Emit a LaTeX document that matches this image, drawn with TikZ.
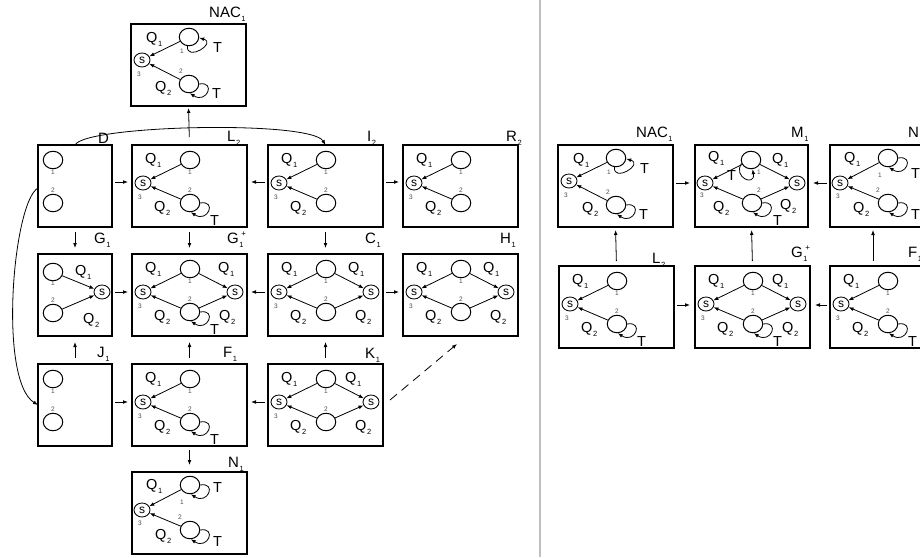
\documentclass[tikz,border=0pt]{standalone}
\usepackage{fontspec}
\setmainfont{Liberation Sans}
\usetikzlibrary{arrows.meta,shapes.geometric}
\definecolor{numgray}{gray}{0.3}
\definecolor{sepgray}{gray}{0.75}
\newcommand\sbx[1]{\kern0.6pt\raisebox{-4.5pt}{\fontsize{7.5}{7.5}\selectfont #1}}
\newcommand\gplus{G\kern0.6pt\rlap{\raisebox{6.5pt}{\kern2pt\fontsize{8}{8}\selectfont +}}\raisebox{-4.5pt}{\fontsize{7.5}{7.5}\selectfont 1}}
\newcommand\gBN[3]{\node[bn] (#1) at (#2,-#3) {};}
\newcommand\gSN[3]{\node[sn] (#1) at (#2,-#3) {s};}
\newcommand\gNum[3]{\node[num] at (#1,-#2) {#3};}
\newcommand\gQ[3]{\node[lab] at (#1,-#2) {Q\sbx{#3}};}
\newcommand\gT[2]{\node[lab] at (#1,-#2) {T};}
\newcommand\gLoopBR[1]{\draw[arr] (#1.east) .. controls +(17,3) and +(17,-11) .. (#1.-85);}
\newcommand\gLoopRS[1]{\draw[arr] (#1.-100) .. controls +(-1,-16) and +(18,-5) .. (#1.-5);}
\newcommand\gLoopBL[1]{\draw[arr] (#1.200) .. controls +(-9,-14) and +(3,-18) .. (#1.-80);}
\newcommand\gAt[3]{\begin{scope}[shift={(#1,-#2)}]#3\end{scope}}
\newcommand\gCore[1]{%
 \gBN{#1a}{58}{15}\gBN{#1b}{58}{58}\gSN{#1s}{11}{38}%
 \gNum{58}{27}{1}\gNum{58}{45}{2}\gNum{8}{52}{3}%
 \draw[arr] (#1a)--(#1s); \draw[arr] (#1b)--(#1s);%
 \gQ{13}{18}{1}\gQ{22}{66}{2}}
\newcommand\gRside[2]{%
 \gSN{#1r}{103}{38}%
 \draw[arr] (#1a)--(#1r); \draw[arr] (#1b)--(#1r);%
 \gQ{#2}{18}{1}\gQ{87}{66}{2}}
\newcommand\gTloop[1]{\gLoopBR{#1b}\gT{78}{80}}
\newcommand\gTwo[1]{%
 \gBN{#1a}{15}{15}\gBN{#1b}{15}{58}\gNum{15}{27}{1}\gNum{15}{45}{2}}
\newcommand\gNarrow[1]{%
 \gBN{#1a}{15}{18}\gBN{#1b}{15}{59}\gSN{#1s}{64}{38}%
 \gNum{15}{29}{1}\gNum{15}{46}{2}%
 \draw[arr] (#1a)--(#1s); \draw[arr] (#1b)--(#1s);%
 \gQ{37}{21}{1}\gQ{45}{69}{2}}
\newcommand\gNac[1]{%
 \gBN{#1a}{58}{13}\gBN{#1b}{58}{60}\gSN{#1s}{11}{36}%
 \gNum{51}{27}{1}\gNum{50}{47}{2}\gNum{8}{50}{3}%
 \draw[arr] (#1a)--(#1s); \draw[arr] (#1b)--(#1s);%
 \gQ{15}{18}{1}\gQ{24}{67}{2}%
 \gLoopRS{#1a}\gT{82}{28}%
 \gLoopBR{#1b}\gT{81}{74}}
\newcommand\gNn[2]{%
 \gBN{#1a}{58}{13}\gBN{#1b}{58}{58}\gSN{#1s}{10}{38}%
 \gNum{50}{30}{1}\gNum{48}{45}{2}\gNum{8}{51}{3}%
 \draw[arr] (#1a)--(#1s); \draw[arr] (#1b)--(#1s);%
 \gQ{14}{17}{1}\gQ{23}{67}{2}%
 \gLoopBR{#1a}\gT{81}{#2}%
 \gLoopBR{#1b}\gT{81}{74}}
\begin{document}
\begin{tikzpicture}[x=1pt,y=1pt,
  boxst/.style={draw,rectangle,line width=1.1pt,minimum width=115pt,minimum height=82pt,inner sep=0pt,outer sep=0pt,anchor=north west},
  bn/.style={draw,ellipse,line width=1pt,minimum width=19.5pt,minimum height=17.5pt,inner sep=0pt},
  sn/.style={draw,ellipse,line width=0.85pt,minimum width=16pt,minimum height=14pt,inner sep=0pt,font=\fontsize{12}{12}\selectfont},
  num/.style={font=\fontsize{6.5}{6.5}\selectfont,text=numgray,inner sep=0pt},
  lab/.style={font=\fontsize{14.5}{14.5}\selectfont,anchor=base west,inner sep=0pt},
  blab/.style={font=\fontsize{15}{15}\selectfont,anchor=base west,inner sep=0pt},
  arr/.style={-{Latex[length=5pt,width=3.8pt]},line width=0.8pt},
  sh/.style 2 args={shorten <=#1pt,shorten >=#2pt}]
\useasboundingbox (0,0) rectangle (920,-557);
% separator
\draw[sepgray,line width=1.3pt] (540,0) -- (540,-557);
% ---------- boxes ----------
\node[boxst] (NACt) at (131,-24) {};
\node[boxst,minimum width=74pt] (D) at (38,-145) {};
\node[boxst] (L2) at (132,-145) {};
\node[boxst] (I2) at (268,-145) {};
\node[boxst] (R2) at (403,-145) {};
\node[boxst,minimum width=74pt] (G1) at (38,-254) {};
\node[boxst] (G1p) at (132,-254) {};
\node[boxst] (C1) at (268,-254) {};
\node[boxst] (H1) at (403,-254) {};
\node[boxst,minimum width=74pt] (J1) at (38,-364) {};
\node[boxst] (F1) at (132,-364) {};
\node[boxst] (K1) at (268,-364) {};
\node[boxst] (N1) at (132,-472) {};
\node[boxst] (NACr) at (558,-145) {};
\node[boxst,minimum width=113pt] (M1) at (695,-145) {};
\node[boxst] (N1r) at (830,-145) {};
\node[boxst] (L2r) at (559,-266) {};
\node[boxst] (G1pr) at (695,-266) {};
\node[boxst] (F1r) at (830,-266) {};
% ---------- box labels ----------
\node[blab] at (209,-17) {NAC\sbx1};
\node[blab] at (98,-143) {D};
\node[blab] at (227,-141) {L\sbx2};
\node[blab] at (367,-141) {I\sbx2};
\node[blab] at (506,-141) {R\sbx2};
\node[blab] at (94,-243) {G\sbx1};
\node[blab] at (227,-243) {\gplus};
\node[blab] at (365,-243) {C\sbx1};
\node[blab] at (500,-243) {H\sbx1};
\node[blab] at (97,-357) {J\sbx1};
\node[blab] at (223,-357) {F\sbx1};
\node[blab] at (365,-358) {K\sbx1};
\node[blab] at (228,-467) {N\sbx1};
\node[blab] at (636,-137) {NAC\sbx1};
\node[blab] at (791,-137) {M\sbx1};
\node[blab] at (908,-137) {N\sbx1};
\node[blab] at (652,-263) {L\sbx2};
\node[blab] at (791,-257) {\gplus};
\node[blab] at (908,-257) {F\sbx1};
% ---------- box contents ----------
\gAt{131}{24}{\gNac{nt}}
\gAt{38}{145}{\gTwo{d}}
\gAt{132}{145}{\gCore{l}\gTloop{l}}
\gAt{268}{145}{\gCore{i}}
\gAt{403}{145}{\gCore{rr}}
\gAt{38}{254}{\gNarrow{g}}
\gAt{132}{254}{\gCore{gp}\gRside{gp}{86}\gTloop{gp}}
\gAt{268}{254}{\gCore{c}\gRside{c}{80}}
\gAt{403}{254}{\gCore{h}\gRside{h}{80}}
\gAt{38}{364}{\gTwo{j}}
\gAt{132}{364}{\gCore{f}\gTloop{f}}
\gAt{268}{364}{\gCore{k}\gRside{k}{77}}
\gAt{132}{472}{\gNn{n}{20}}
\gAt{558}{145}{\gNac{ntr}}
\gAt{695}{145}{%
 \gBN{ma}{56}{15}\gBN{mb}{57}{58}\gSN{ms}{10}{38}\gSN{mr}{102}{38}%
 \gNum{64}{27}{1}\gNum{64}{45}{2}\gNum{7}{50}{3}%
 \draw[arr] (ma)--(ms); \draw[arr] (mb)--(ms); \draw[arr] (ma)--(mr); \draw[arr] (mb)--(mr);%
 \gQ{13}{16}{1}\gQ{18}{66}{2}\gQ{77}{18}{1}\gQ{85}{64}{2}%
 \gLoopBL{ma}\gT{32}{35}%
 \gLoopBR{mb}\gT{78}{80}}
\gAt{830}{145}{\gNn{nr}{33}}
\gAt{559}{266}{\gCore{lr}\gTloop{lr}}
\gAt{695}{266}{\gCore{gpr}\gRside{gpr}{77}\gTloop{gpr}}
\gAt{830}{266}{\gCore{fr}\gTloop{fr}}
% ---------- connectors (left) ----------
\draw[arr,sh={8}{2}] (L2.north) -- (NACt.south);
\draw[arr,sh={3}{4}] ([yshift=4]D.east) -- ([yshift=4]L2.west);
\draw[arr,sh={3}{4}] ([yshift=4]I2.west) -- ([yshift=4]L2.east);
\draw[arr,sh={3}{4}] ([yshift=4]I2.east) -- ([yshift=4]R2.west);
\draw[arr,sh={5}{6}] (D.south) -- (G1.north);
\draw[arr,sh={5}{6}] (L2.south) -- (G1p.north);
\draw[arr,sh={5}{6}] (I2.south) -- (C1.north);
\draw[arr,sh={3}{4}] ([yshift=3]G1.east) -- ([yshift=3]G1p.west);
\draw[arr,sh={3}{4}] ([yshift=3]C1.west) -- ([yshift=3]G1p.east);
\draw[arr,sh={3}{4}] ([yshift=3]C1.east) -- ([yshift=3]H1.west);
\draw[arr,sh={6}{6}] (J1.north) -- (G1.south);
\draw[arr,sh={6}{6}] (F1.north) -- (G1p.south);
\draw[arr,sh={6}{6}] (K1.north) -- (C1.south);
\draw[arr,sh={3}{4}] ([yshift=3]J1.east) -- ([yshift=3]F1.west);
\draw[arr,sh={3}{4}] ([yshift=3]K1.west) -- ([yshift=3]F1.east);
\draw[arr,sh={4}{7}] (F1.south) -- (N1.north);
\draw[arr,dashed,dash pattern=on 9pt off 6pt] ([shift={(7,5)}]K1.east) -- ([shift={(-3.5,-8)}]H1.south);
\draw[arr] (D.north) .. controls +(10,20) and +(-15,25) .. (I2.north);
\draw[arr] ([yshift=-2]D.west) .. controls +(-25,-14) and +(-40,25) .. (J1.west);
% ---------- connectors (right) ----------
\draw[arr,sh={3}{5}] ([yshift=3]NACr.east) -- ([yshift=3]M1.west);
\draw[arr,sh={3}{5}] ([yshift=3]N1r.west) -- ([yshift=3]M1.east);
\draw[arr,sh={5}{3}] (L2r.north) -- (NACr.south);
\draw[arr,sh={5}{3}] (G1pr.north) -- (M1.south);
\draw[arr,sh={5}{3}] ([xshift=-14.5]F1r.north) -- ([xshift=-14.5]N1r.south);
\draw[arr,sh={3}{5}] ([yshift=2]L2r.east) -- ([yshift=2]G1pr.west);
\draw[arr,sh={3}{5}] ([yshift=2]F1r.west) -- ([yshift=2]G1pr.east);
\end{tikzpicture}
\end{document}
